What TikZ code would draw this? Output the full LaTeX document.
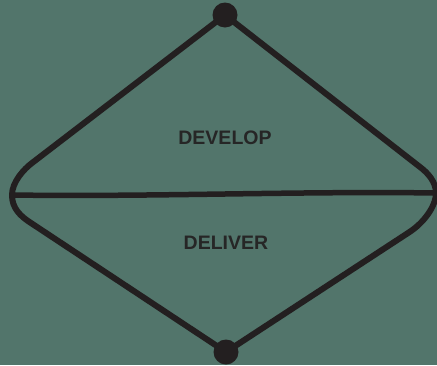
\documentclass[tikz,border=0pt]{standalone}
\usepackage{fontspec}
\setmainfont{Liberation Sans}
\definecolor{bg}{HTML}{52756B}
\definecolor{ink}{HTML}{231F20}
\definecolor{label}{HTML}{262626}
\begin{document}
\begin{tikzpicture}[x=1pt,y=-1pt,
  sketch/.style={draw=ink,line width=6pt,line cap=round,line join=round},
  dot/.style={circle,fill=ink,inner sep=0pt,minimum size=25pt},
  phase/.style={text=label,font=\bfseries\fontsize{19.5}{22}\selectfont}]
\fill[bg] (0,0) rectangle (437,365);
\useasboundingbox (0,0) rectangle (437,365);
% end points of the diamond
\node[dot] (top) at (225,15) {};
\node[dot] (bot) at (226,352) {};
\coordinate (west) at (12,195);
\coordinate (east) at (436,193);
% outline: straight strokes that bend smoothly round the side corners
\draw[sketch] (top.center) -- (32,163)
  .. controls (24,169) and (12,182) .. (west);
\draw[sketch] (west) .. controls (12,208) and (20,216) .. (31,223)
  -- (bot.center);
\draw[sketch] (top.center) -- (420,167)
  .. controls (428,173) and (436,182) .. (east);
\draw[sketch] (east) .. controls (436,206) and (424,223) .. (408,233)
  -- (bot.center);
% dividing line
\draw[sketch,line width=5.5pt] (west) .. controls (150,197) and (300,191) .. (east);
% labels
\node[phase] (develop) at (225,138) {DEVELOP};
\node[phase] (deliver) at (226,243) {DELIVER};
\end{tikzpicture}
\end{document}
